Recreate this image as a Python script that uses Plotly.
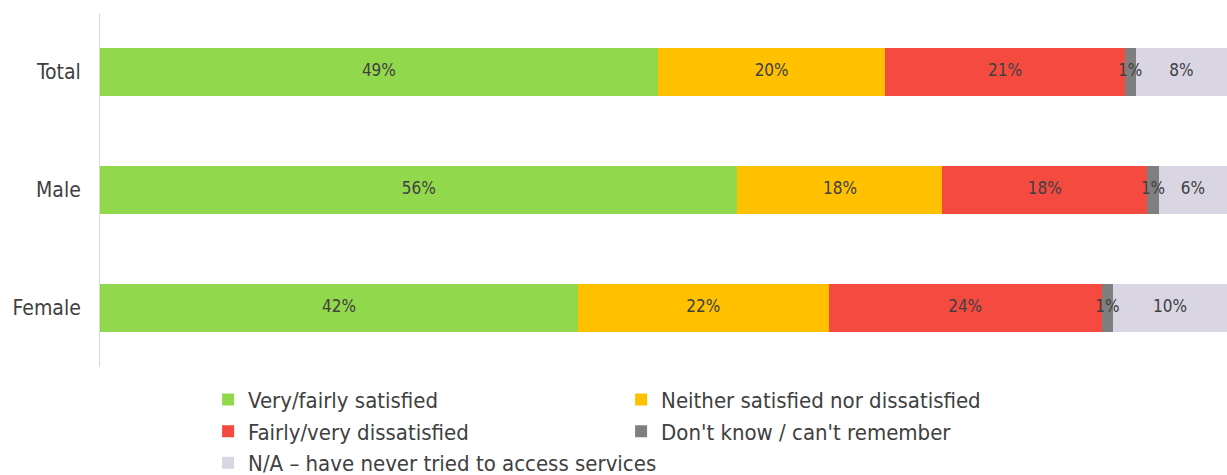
import plotly.graph_objects as go

# Survey groups (top to bottom)
groups = ["Total", "Male", "Female"]

# Response shares in percent, per group
series_names = [
    "Very/fairly satisfied",
    "Neither satisfied nor dissatisfied",
    "Fairly/very dissatisfied",
    "Don't know / can't remember",
    "N/A \u2013 have never tried to access services",
]
very_fairly_satisfied = [49, 56, 42]
neither = [20, 18, 22]
fairly_very_dissatisfied = [21, 18, 24]
dont_know = [1, 1, 1]
not_applicable = [8, 6, 10]

series_values = [
    very_fairly_satisfied,
    neither,
    fairly_very_dissatisfied,
    dont_know,
    not_applicable,
]
colors = ["#92D84C", "#FFC000", "#F44A40", "#7F7F7F", "#D9D5E3"]

FONT = "DejaVu Sans Condensed, Lato, sans-serif"
TEXT_COLOR = "#404040"

fig = go.Figure()
for name, vals, col in zip(series_names, series_values, colors):
    fig.add_trace(
        go.Bar(
            name=name,
            y=groups,
            x=vals,
            orientation="h",
            marker=dict(color=col, line=dict(width=0)),
            hoverinfo="x+name",
        )
    )

# Segment labels drawn on top of all bars so narrow segments can overflow
label_x, label_y, label_text = [], [], []
for gi, g in enumerate(groups):
    start = 0
    for vals in series_values:
        v = vals[gi]
        label_x.append(start + v / 2)
        label_y.append(g)
        label_text.append(f"{v}%")
        start += v

fig.add_trace(
    go.Scatter(
        x=label_x,
        y=label_y,
        mode="text",
        text=label_text,
        textposition="middle center",
        textfont=dict(family=FONT, size=17, color=TEXT_COLOR),
        showlegend=False,
        hoverinfo="skip",
        cliponaxis=False,
    )
)

row_totals = [sum(v[i] for v in series_values) for i in range(len(groups))]

fig.update_layout(
    barmode="stack",
    bargap=0.6,
    width=1227,
    height=475,
    margin=dict(l=100, r=0, t=13, b=108),
    paper_bgcolor="white",
    plot_bgcolor="white",
    font=dict(family=FONT, color=TEXT_COLOR),
    xaxis=dict(
        range=[0, max(row_totals)],
        visible=False,
        showgrid=False,
        zeroline=False,
    ),
    yaxis=dict(
        autorange="reversed",
        showline=True,
        linecolor="#D9D9D9",
        linewidth=1,
        ticks="",
        ticklabelstandoff=14,
        tickfont=dict(family=FONT, size=21, color=TEXT_COLOR),
        showgrid=False,
    ),
    legend=dict(
        orientation="h",
        xref="container",
        yref="container",
        x=0.1696,
        xanchor="left",
        y=0.2026,
        yanchor="top",
        entrywidth=368,
        entrywidthmode="pixels",
        font=dict(family=FONT, size=22, color=TEXT_COLOR),
        traceorder="normal",
        itemwidth=30,
    ),
)

fig.write_html("out.html")
